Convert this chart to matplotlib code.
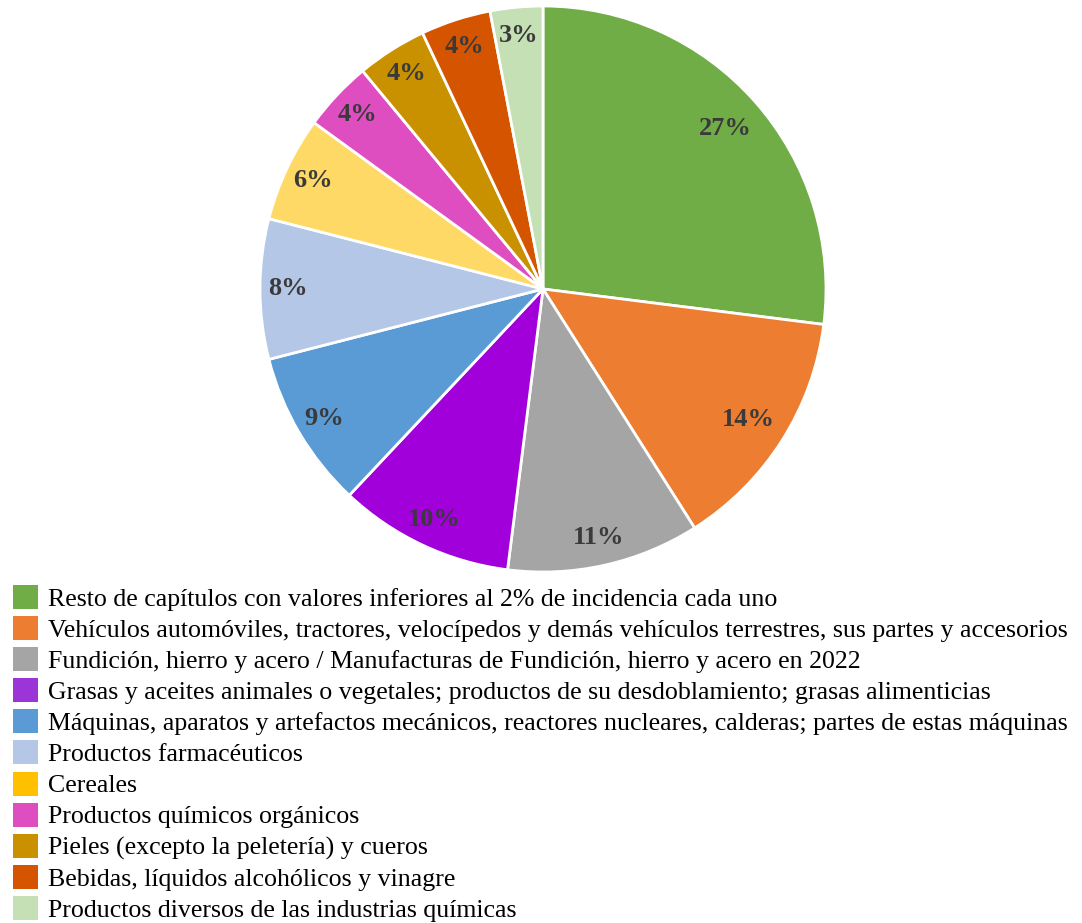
import matplotlib
matplotlib.use("Agg")
import matplotlib.pyplot as plt
from matplotlib.patches import Patch
import numpy as np

categories = [
    "Resto de capítulos con valores inferiores al 2% de incidencia cada uno",
    "Vehículos automóviles, tractores, velocípedos y demás vehículos terrestres, sus partes y accesorios",
    "Fundición, hierro y acero / Manufacturas de Fundición, hierro y acero en 2022",
    "Grasas y aceites animales o vegetales; productos de su desdoblamiento; grasas alimenticias",
    "Máquinas, aparatos y artefactos mecánicos, reactores nucleares, calderas; partes de estas máquinas",
    "Productos farmacéuticos",
    "Cereales",
    "Productos químicos orgánicos",
    "Pieles (excepto la peletería) y cueros",
    "Bebidas, líquidos alcohólicos y vinagre",
    "Productos diversos de las industrias químicas",
]
values = [27, 14, 11, 10, 9, 8, 6, 4, 4, 4, 3]
slice_colors = ["#70AD47", "#ED7D31", "#A5A5A5", "#A100DB", "#5B9BD5", "#B4C7E7",
                "#FFD966", "#DF4EC1", "#C99100", "#D55400", "#C5E0B4"]
legend_colors = ["#70AD47", "#ED7D31", "#A5A5A5", "#9B35D8", "#5B9BD5", "#B4C7E7",
                 "#FFC000", "#DF4EC1", "#C99100", "#D55400", "#C5E0B4"]

plt.rcParams['font.family'] = ['Liberation Serif', 'DejaVu Serif']

W, H = 1082, 923
fig = plt.figure(figsize=(W/100, H/100), dpi=100)
cx, cy, R = 543, 289, 283
ax = fig.add_axes([(cx-R)/W, (H-cy-R)/H, 2*R/W, 2*R/H])
wedges, texts, autotexts = ax.pie(
    values, colors=slice_colors, startangle=90, counterclock=False,
    autopct=lambda p: f"{p:.0f}%", pctdistance=0.9,
    wedgeprops=dict(edgecolor="white", linewidth=2),
    textprops=dict(fontsize=19, fontweight="bold", color="#3A3A3A"))
ax.set_xlim(-1.0, 1.0)
ax.set_ylim(-1.0, 1.0)
ax.set_aspect("equal")

# bigger slices have labels slightly closer in
for w, t in zip(wedges, autotexts):
    frac = (w.theta2 - w.theta1) / 360
    if frac > 0.12:
        ang = np.deg2rad((w.theta1 + w.theta2) / 2)
        t.set_position((0.86*np.cos(ang), 0.86*np.sin(ang)))

handles = [Patch(facecolor=c, edgecolor="none") for c in legend_colors]
fig.legend(handles, categories, loc="upper left", bbox_to_anchor=(13/W, 1-585/H),
           frameon=False, fontsize=18.6, handlelength=0.95, handleheight=1.05,
           handletextpad=0.4, labelspacing=0.205, borderaxespad=0, borderpad=0)

fig.savefig("out.png", dpi=100, facecolor="white")
